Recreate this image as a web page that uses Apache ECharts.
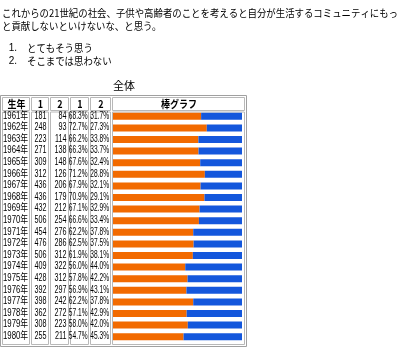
<!DOCTYPE html>
<html><head><meta charset="utf-8">
<script src="https://cdn.jsdelivr.net/npm/echarts@6/dist/echarts.min.js"></script>
<style>html,body{margin:0;padding:0;background:#fff}#c{width:400px;height:355px}</style>
</head><body><div id="c"></div>
<script>
const questionLines = ['これからの21世紀の社会、子供や高齢者のことを考えると自分が生活するコミュニティにもっ', 'と貢献しないといけないな、と思う。'];
const answerOptions = ['とてもそう思う', 'そこまでは思わない'];
const tableTitle = '全体';
const headers = ['生年', '1', '2', '1', '2', '棒グラフ'];
const years = ['1961年','1962年','1963年','1964年','1965年','1966年','1967年','1968年','1969年','1970年','1971年','1972年','1973年','1974年','1975年','1976年','1977年','1978年','1979年','1980年'];
const count1 = [181,248,223,271,309,312,436,436,432,506,454,476,506,409,428,392,398,362,308,255];
const count2 = [84,93,114,138,148,126,206,179,212,254,276,286,312,322,312,297,242,272,223,211];
const pct1 = [68.3,72.7,66.2,66.3,67.6,71.2,67.9,70.9,67.1,66.6,62.2,62.5,61.9,56.0,57.8,56.9,62.2,57.1,58.0,54.7];
const pct2 = [31.7,27.3,33.8,33.7,32.4,28.8,32.1,29.1,32.9,33.4,37.8,37.5,38.1,44.0,42.2,43.1,37.8,42.9,42.0,45.3];

const NFONT = '"Liberation Sans","Noto Sans CJK JP",sans-serif';
const JFONT = '"Noto Sans CJK JP",sans-serif';
const pctFmt = v => v.toFixed(1) + '%';

const mctx = document.createElement('canvas').getContext('2d');
function measure(text, font) { mctx.font = font; return mctx.measureText(text).width; }

// layout
const gridLeft = 113, gridRight = 242, gridTop = 110.5, gridH = 232;
const cols = [[2,29],[31,48],[50,68],[70,88],[90,110],[112,244]];
const headTop = 97, headBot = 110, dataTop = 111.5, dataBot = 344;

const chart = echarts.init(document.getElementById('c'), null, {renderer: 'canvas'});
chart.setOption({
  animation: false,
  grid: {left: gridLeft, top: gridTop, width: gridRight - gridLeft, height: gridH},
  xAxis: {type: 'value', min: 0, max: 100, show: false},
  yAxis: {type: 'category', data: years, inverse: true, show: false},
  series: [
    {type: 'bar', stack: 'a', data: pct1, barWidth: 7, itemStyle: {color: '#f26a00'}},
    {type: 'bar', stack: 'a', data: pct2, barWidth: 7, itemStyle: {color: '#1457dc'}}
  ]
});

const graphics = [];
// title text
const tFont = '10.5px ' + JFONT;
const tScale = 396 / measure(questionLines[0], tFont);
questionLines.forEach((t, i) => {
  graphics.push({type: 'text', x: 2, y: 13 + i * 13.5, scaleX: tScale, style: {text: t, fill: '#000', font: tFont, textAlign: 'left', textVerticalAlign: 'middle'}, silent: true});
});
answerOptions.forEach((t, i) => {
  graphics.push({type: 'text', x: 17, y: 48 + i * 13, style: {text: (i + 1) + '.', fill: '#000', font: '10px ' + NFONT, textAlign: 'right', textVerticalAlign: 'middle'}, silent: true});
  graphics.push({type: 'text', x: 27, y: 48 + i * 13, scaleX: tScale, style: {text: t, fill: '#000', font: tFont, textAlign: 'left', textVerticalAlign: 'middle'}, silent: true});
});
graphics.push({type: 'text', x: 124, y: 86, style: {text: tableTitle, fill: '#000', font: '11px ' + JFONT, textAlign: 'center', textVerticalAlign: 'middle'}, silent: true});

// table borders
graphics.push({type: 'rect', shape: {x: 0.5, y: 95.5, width: 246, height: 251}, style: {fill: 'none', stroke: '#a0a0a0', lineWidth: 1}, silent: true});
cols.forEach((c, i) => {
  graphics.push({type: 'rect', shape: {x: c[0] + 0.5, y: headTop + 0.5, width: c[1] - c[0], height: headBot - headTop}, style: {fill: 'none', stroke: '#b8b8b8', lineWidth: 1}, silent: true});
  graphics.push({type: 'rect', shape: {x: c[0] + 0.5, y: dataTop + 0.5, width: c[1] - c[0], height: dataBot - dataTop}, style: {fill: 'none', stroke: '#b8b8b8', lineWidth: 1}, silent: true});
  graphics.push({type: 'text', x: (c[0] + c[1]) / 2 + 1, y: (headTop + headBot) / 2 + 0.5, scaleX: 0.9, style: {text: headers[i], fill: '#000', font: 'bold 10px ' + JFONT, textAlign: 'center', textVerticalAlign: 'middle'}, silent: true});
});

// table row texts, positioned via the category axis
const tblFont = '10px ' + NFONT;
const colTexts = [
  {data: years, x: 3, align: 'left', scale: 0.78},
  {data: count1.map(String), x: 46.5, align: 'right', scale: 0.72},
  {data: count2.map(String), x: 66.5, align: 'right', scale: 0.72},
  {data: pct1.map(pctFmt), x: 87.5, align: 'right', scale: 0.66},
  {data: pct2.map(pctFmt), x: 109, align: 'right', scale: 0.66}
];
years.forEach((yr, i) => {
  const py = chart.convertToPixel({yAxisIndex: 0}, yr);
  colTexts.forEach(ct => {
    graphics.push({type: 'text', x: ct.x, y: py - 0.5, scaleX: ct.scale, style: {text: ct.data[i], fill: '#000', font: tblFont, textAlign: ct.align, textVerticalAlign: 'middle'}, silent: true});
  });
});

chart.setOption({graphic: graphics});
</script></body></html>
